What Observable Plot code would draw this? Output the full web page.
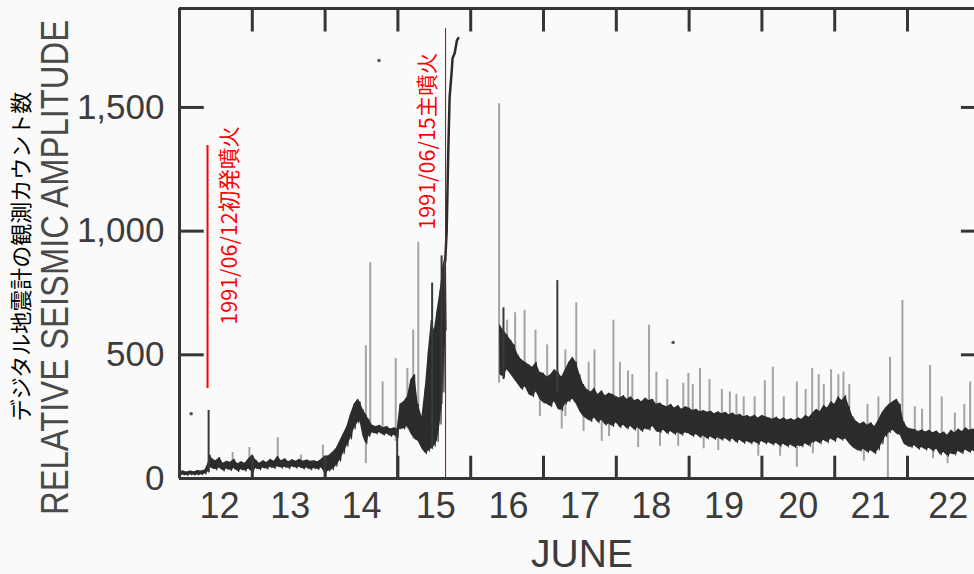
<!DOCTYPE html>
<html><head><meta charset="utf-8">
<script src="https://cdn.jsdelivr.net/npm/d3@7"></script>
<script src="https://cdn.jsdelivr.net/npm/@observablehq/plot@0.6"></script>
<style>
html,body{margin:0;padding:0;background:#fafafa;}
#chart{width:974px;height:574px;overflow:hidden;}
</style></head><body><div id="chart"></div>
<script>
// ---- data ----
const dayTicks = [13, 14, 15, 16, 17, 18, 19, 20, 21, 22];
const dayLabelT = [12.55, 13.52, 14.5, 15.52, 16.52, 17.5, 18.48, 19.48, 20.5, 21.49, 22.56];
const dayLabels = ["12", "13", "14", "15", "16", "17", "18", "19", "20", "21", "22"];
const yTicks = [0, 500, 1000, 1500];
const yInnerTicks = [500, 1000, 1500];

// [day, low, high] envelope of the seismic trace before the climactic eruption
const preBand = [
  [12.00,12,28],[12.05,14,30],[12.10,12,26],[12.15,15,30],[12.20,13,27],[12.25,14,32],[12.30,15,30],[12.35,18,34],
  [12.39,25,60],[12.42,45,95],[12.45,40,80],[12.50,35,72],[12.55,42,85],[12.60,30,62],[12.65,38,70],[12.70,32,66],
  [12.75,40,78],[12.80,28,60],[12.85,35,68],[12.90,30,62],[12.95,38,80],[13.00,25,95],[13.05,40,75],[13.10,35,62],
  [13.15,42,72],[13.20,38,65],[13.25,45,78],[13.30,40,70],[13.35,48,90],[13.40,42,72],[13.45,45,80],[13.50,40,68],
  [13.55,48,76],[13.60,42,70],[13.65,45,78],[13.70,38,70],[13.75,42,75],[13.80,35,70],[13.85,40,72],[13.90,36,68],
  [13.95,42,78],[14.00,20,90],[14.05,30,92],[14.10,35,105],[14.15,50,120],[14.20,70,150],[14.25,100,180],[14.30,130,210],
  [14.35,160,260],[14.40,200,300],[14.45,225,320],[14.48,230,310],[14.52,170,280],[14.56,140,260],[14.60,170,240],
  [14.65,185,215],[14.70,180,210],[14.75,185,215],[14.80,175,205],[14.85,180,210],[14.90,170,200],[14.95,175,205],
  [14.99,165,200],[15.03,200,300],[15.08,200,310],[15.13,210,330],[15.18,180,400],[15.23,160,420],[15.28,150,300],
  [15.33,120,250],[15.38,100,380],[15.42,110,520],[15.46,120,640],[15.50,130,600],[15.54,150,680],[15.58,220,760],
  [15.62,350,860],[15.65,600,900]
];
// steep climb at the climactic eruption
const rise = [[15.65,880],[15.67,1000],[15.69,1300],[15.71,1540],[15.74,1650],[15.75,1698],[15.78,1720],[15.81,1770],[15.83,1780]];
// [day, low, high] envelope after the eruption
const postBand = [
  [16.40,420,620],[16.45,410,600],[16.50,440,580],[16.55,420,560],[16.60,400,540],[16.65,380,500],[16.70,360,480],
  [16.75,370,470],[16.80,340,460],[16.85,330,450],[16.90,350,470],[16.95,320,430],[17.00,305,425],[17.05,300,410],
  [17.10,290,420],[17.15,310,440],[17.20,280,430],[17.25,275,410],[17.30,300,440],[17.35,310,470],[17.40,320,490],
  [17.45,300,470],[17.50,270,420],[17.55,250,380],[17.60,240,360],[17.65,230,350],[17.70,245,365],[17.75,225,340],
  [17.80,235,355],[17.85,215,335],[17.90,220,345],[17.95,210,340],[18.00,225,330],[18.05,205,325],[18.10,215,335],
  [18.15,200,320],[18.20,210,330],[18.25,195,315],[18.30,205,320],[18.35,190,310],[18.40,200,325],[18.45,195,315],
  [18.50,210,320],[18.55,190,300],[18.60,185,305],[18.65,195,295],[18.70,180,290],[18.75,190,300],[18.80,178,285],
  [18.85,185,295],[18.90,175,280],[18.95,185,290],[19.00,180,285],[19.05,170,275],[19.10,178,280],[19.15,165,270],
  [19.20,172,275],[19.25,160,268],[19.30,168,272],[19.35,158,262],[19.40,165,270],[19.45,155,262],[19.50,162,268],
  [19.55,150,258],[19.60,160,265],[19.65,145,255],[19.70,155,260],[19.75,142,250],[19.80,150,255],[19.85,140,248],
  [19.90,148,256],[19.95,138,245],[20.00,150,255],[20.05,140,250],[20.10,145,245],[20.15,135,240],[20.20,142,248],
  [20.25,130,238],[20.30,138,245],[20.35,128,236],[20.40,135,242],[20.45,125,235],[20.50,132,245],[20.55,128,240],
  [20.60,140,255],[20.65,130,248],[20.70,145,265],[20.75,150,280],[20.80,140,270],[20.85,155,295],[20.90,145,285],
  [20.95,160,310],[21.00,150,300],[21.05,165,330],[21.10,155,315],[21.15,160,335],[21.20,140,290],[21.25,125,250],
  [21.30,115,230],[21.35,110,220],[21.40,118,228],[21.45,105,215],[21.50,112,225],[21.55,100,210],[21.60,115,235],
  [21.65,140,265],[21.70,170,285],[21.75,185,300],[21.80,195,310],[21.85,180,320],[21.90,175,300],[21.95,140,230],
  [22.00,130,205],[22.05,125,200],[22.10,132,198],[22.15,118,190],[22.20,125,196],[22.25,115,188],[22.30,122,195],
  [22.35,110,185],[22.40,118,192],[22.45,95,180],[22.50,105,188],[22.55,90,175],[22.60,100,195],[22.65,95,185],
  [22.70,110,200],[22.75,100,190],[22.80,115,205],[22.85,105,195],[22.90,112,200],[22.95,100,190]
];
// [day, from, to] thin light-grey spikes (up and down from the trace)
const lightSpikes = [
  [12.73,40,105],[12.96,40,125],[13.35,50,165],[13.67,55,95],[13.97,50,135],
  [14.56,60,537],[14.62,180,873],[14.79,190,390],[14.97,150,485],[15.13,200,445],[15.21,160,600],[15.28,200,955],
  [16.39,385,1515],[16.50,450,640],[16.61,450,670],[16.74,440,680],[16.89,400,600],[16.95,250,330],[17.05,360,540],
  [17.25,200,290],[17.30,250,520],[17.45,360,710],[17.55,190,260],[17.62,300,470],[17.70,280,520],
  [17.80,150,235],[17.90,170,230],[17.96,270,640],[18.05,280,470],[18.16,250,435],[18.22,260,420],[18.30,125,250],
  [18.45,260,620],[18.55,250,430],[18.60,130,200],[18.70,240,400],[18.85,130,190],
  [18.92,250,385],[18.99,250,425],[19.05,230,380],[19.15,230,445],[19.20,120,180],[19.28,220,400],[19.40,113,200],
  [19.45,220,360],[19.56,220,350],[19.65,210,340],[19.75,200,330],[19.90,200,330],[19.95,90,150],
  [20.04,200,395],[20.15,200,450],[20.25,90,140],[20.30,200,330],[20.48,45,390],[20.60,200,360],[20.69,200,445],
  [20.70,100,140],[20.78,240,420],[20.85,240,380],[20.95,250,440],[21.05,250,420],[21.12,260,430],[21.20,230,380],
  [21.40,70,120],[21.45,180,300],[21.60,200,330],
  [21.73,0,260],[21.76,230,490],[21.93,220,720],[22.10,170,290],[22.20,160,280],[22.31,150,457],[22.35,80,120],
  [22.47,150,330],[22.55,60,100],[22.65,150,265],[22.78,160,300],[22.86,140,390]
];
// [day, from, to] dark spikes
const darkSpikes = [[12.40,25,275],[14.99,0,200],[15.47,120,790],[15.60,300,900],[16.45,400,690],[17.19,350,800]];
const strayDots = [[12.16,262],[14.74,1690],[18.78,550]];

// annotations
const eventT = [12.385, 15.655];
const eventLabels = ["1991/06/12初発噴火", "1991/06/15主噴火"];
const eventLineTop = [1346, 1819];
const eventLineBottom = [364, 0];
const eventTextBase = [622, 1006];

// ---- build ----
const events = eventT.map((t, i) => ({t, label: eventLabels[i], top: eventLineTop[i], bottom: eventLineBottom[i], base: eventTextBase[i]}));
const zig = band => band.flatMap(d => [[d[0], d[2]], [d[0] + 0.012, d[1]]]);
const ink = "#2c2c2c";
const axisInk = "#363636";
const textInk = "#3c3c3c";

const plot = Plot.plot({
  width: 974, height: 574,
  marginLeft: 179, marginRight: 0, marginTop: 8, marginBottom: 96,
  x: {domain: [12, 22.92], axis: null},
  y: {domain: [0, 1900], axis: null},
  style: {background: "#fafafa", fontFamily: "'Liberation Sans', Arial, sans-serif", overflow: "hidden"},
  marks: [
    Plot.ruleX(lightSpikes, {x: d => d[0], y1: d => d[1], y2: d => d[2], stroke: "#a4a4a4", strokeWidth: 2}),
    Plot.areaY(preBand, {x: d => d[0], y1: d => d[1], y2: d => d[2], fill: ink}),
    Plot.areaY(postBand, {x: d => d[0], y1: d => d[1], y2: d => d[2], fill: ink}),
    Plot.line(zig(preBand), {x: d => d[0], y: d => d[1], stroke: ink, strokeWidth: 1.1}),
    Plot.line(zig(postBand), {x: d => d[0], y: d => d[1], stroke: ink, strokeWidth: 1.1}),
    Plot.line(rise, {x: d => d[0], y: d => d[1], stroke: ink, strokeWidth: 2.5}),
    Plot.ruleX(darkSpikes, {x: d => d[0], y1: d => d[1], y2: d => d[2], stroke: "#3a3a3a", strokeWidth: 2}),
    Plot.dot(strayDots, {x: d => d[0], y: d => d[1], r: 1.8, fill: "#555", stroke: null}),
    // frame & ticks
    Plot.ruleX([12], {stroke: axisInk, strokeWidth: 3}),
    Plot.ruleY([0, 1900], {stroke: axisInk, strokeWidth: 3}),
    Plot.ruleX(dayTicks, {y1: 0, y2: 90, stroke: axisInk, strokeWidth: 3}),
    Plot.ruleX(dayTicks, {y1: 1805, y2: 1900, stroke: axisInk, strokeWidth: 3}),
    Plot.ruleY(yInnerTicks, {x1: 12, x2: 12.34, stroke: axisInk, strokeWidth: 3}),
    Plot.ruleY(yInnerTicks, {x1: 22.74, x2: 22.92, stroke: axisInk, strokeWidth: 3}),
    // axes labels
    Plot.axisY(yTicks, {tickSize: 0, tickPadding: 15, tickFormat: d3.format(","), fontSize: 35, color: textInk, label: null}),
    Plot.axisX(dayLabelT, {tickSize: 0, tickPadding: 14, tickFormat: d => dayLabels[dayLabelT.indexOf(d)], fontSize: 36, color: textInk, label: null}),
    Plot.text(["JUNE"], {frameAnchor: "bottom", text: d => d, dx: 5, dy: 76, fontSize: 39, lineAnchor: "middle", fill: textInk}),
    Plot.text(["RELATIVE SEISMIC AMPLITUDE"], {frameAnchor: "left", text: d => d, rotate: -90, textAnchor: "middle", lineAnchor: "middle", dx: -124, dy: 24, fontSize: 33, fontFamily: "'Liberation Sans', Arial, sans-serif", fill: "#4a4a4a"}),
    Plot.text(["デジタル地震計の観測カウント数"], {frameAnchor: "left", text: d => d, rotate: -90, textAnchor: "middle", lineAnchor: "middle", dx: -158, dy: 13, fontSize: 22, fontFamily: "'Noto Sans CJK JP', sans-serif", fill: "#000"}),
    // annotations
    Plot.ruleX(events, {filter: (d, i) => i === 0, x: "t", y1: "bottom", y2: "top", stroke: "#ff0000", strokeWidth: 2}),
    Plot.ruleX(events, {filter: (d, i) => i === 1, x: "t", y1: "bottom", y2: "top", stroke: "#b00000", strokeWidth: 1}),
    Plot.text(events, {filter: (d, i) => i === 0, x: "t", y: "base", text: "label", rotate: -90, textAnchor: "start", lineAnchor: "middle", dx: 23, fill: "#ff0000", fontSize: 21.5, fontFamily: "'Noto Sans CJK JP', sans-serif"}),
    Plot.text(events, {filter: (d, i) => i === 1, x: "t", y: "base", text: "label", rotate: -90, textAnchor: "start", lineAnchor: "middle", dx: -17, fill: "#ff0000", stroke: "white", strokeWidth: 5, fontSize: 21.5, fontFamily: "'Noto Sans CJK JP', sans-serif"})
  ]
});
document.getElementById("chart").appendChild(plot);
// the reference title is a tall, condensed face: stretch glyph height instead of widening
plot.querySelectorAll("text").forEach(t => {
  if (t.textContent === "RELATIVE SEISMIC AMPLITUDE") {
    t.setAttribute("textLength", 495);
    t.setAttribute("lengthAdjust", "spacingAndGlyphs");
    t.setAttribute("transform", (t.getAttribute("transform") || "") + " scale(1,1.2)");
  }
});
</script></body></html>
